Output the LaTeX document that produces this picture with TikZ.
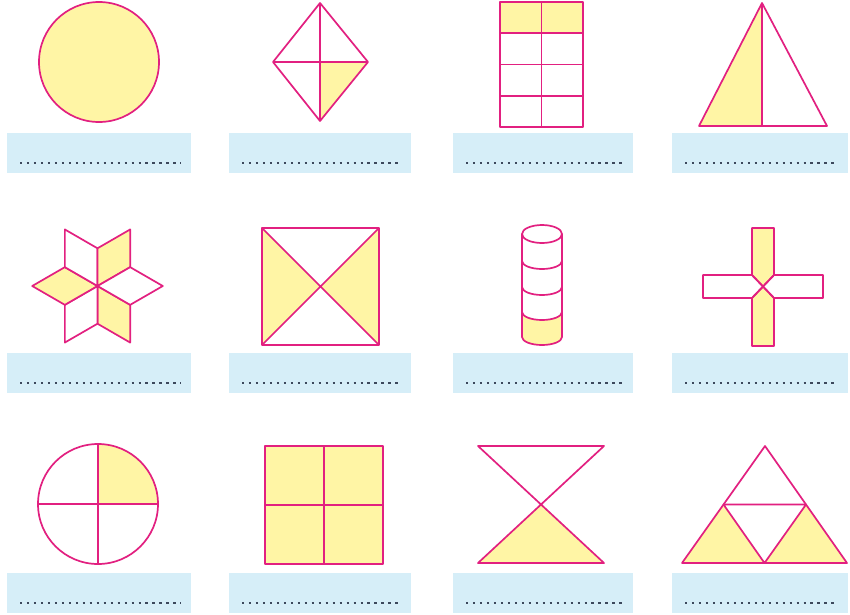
\documentclass[tikz,border=0pt]{standalone}
\usepackage{xcolor}
\usepackage{tikz}
\usetikzlibrary{calc}

\definecolor{pinkline}{RGB}{226,32,128}
\definecolor{partyellow}{RGB}{255,245,165}
\definecolor{boxblue}{RGB}{214,238,248}
\definecolor{dotgrey}{RGB}{60,72,92}

\begin{document}
\begin{tikzpicture}[
    x=0.03cm, y=-0.03cm,
    outline/.style={draw=pinkline, line width=1.45pt, line join=round},
    part/.style={fill=partyellow},
    answerbox/.style={fill=boxblue},
    dotrow/.style={draw=dotgrey, line width=1.9pt, dash pattern=on 1.9pt off 4.05pt},
]
    \fill[white] (0,0) rectangle (850,614);
    \useasboundingbox (0,0) rectangle (850,614);

    % answer boxes
    \foreach \bx/\ex in {7/191, 229/411, 453/633, 672/848}
        \foreach \by in {133, 353, 573} {
            \fill[answerbox] (\bx,\by) rectangle (\ex,\by+40);
            \draw[dotrow] (\bx+13,\by+30) -- (\ex-10,\by+30);
        }

    % row 1
    \coordinate (circ) at (99,62);
    \draw[outline, part] (circ) circle [radius=60];

    \coordinate (kt) at (320,3);
    \coordinate (kl) at (273,62);
    \coordinate (kr) at (368,62);
    \coordinate (kb) at (320,121);
    \coordinate (kc) at (320,62);
    \fill[part] (kc) -- (kr) -- (kb) -- cycle;
    \draw[outline] (kt) -- (kr) -- (kb) -- (kl) -- cycle;
    \draw[outline] (kt) -- (kb) (kl) -- (kr);

    \fill[part] (500,2) rectangle (583,33.25);
    \draw[outline] (500,2) rectangle (583,127);
    \draw[outline] (541.5,2) -- (541.5,127);
    \foreach \gy in {33.25,64.5,95.75}
        \draw[outline] (500,\gy) -- (583,\gy);

    \coordinate (ta) at (762,3);
    \coordinate (tl) at (699,126);
    \coordinate (tr) at (827,126);
    \coordinate (tm) at (762,126);
    \fill[part] (ta) -- (tl) -- (tm) -- cycle;
    \draw[outline] (ta) -- (tl) -- (tr) -- cycle (ta) -- (tm);

    % row 2
    \coordinate (star) at (97.5,286);
    \foreach \t/\c in {30/partyellow, 90/white, 150/partyellow, 210/white, 270/partyellow, 330/white}
        \draw[outline, fill=\c] (star) -- ++(\t:37.7) -- ++(\t+60:37.7) -- ++(\t+180:37.7) -- cycle;

    \coordinate (sq1) at (262,228);
    \coordinate (sq2) at (379,228);
    \coordinate (sq3) at (379,345);
    \coordinate (sq4) at (262,345);
    \coordinate (sqc) at (320.5,286.5);
    \fill[part] (sq1) -- (sqc) -- (sq4) -- cycle;
    \fill[part] (sq2) -- (sqc) -- (sq3) -- cycle;
    \draw[outline] (sq1) -- (sq2) -- (sq3) -- (sq4) -- cycle;
    \draw[outline] (sq1) -- (sq3) (sq2) -- (sq4);

    \fill[part] (522,312) arc[start angle=180, end angle=0, x radius=20, y radius=8]
        -- (562,337) arc[start angle=0, end angle=180, x radius=20, y radius=8] -- cycle;
    \draw[outline] (542,234) ellipse [x radius=20, y radius=9];
    \draw[outline] (522,234) -- (522,337) arc[start angle=180, end angle=0, x radius=20, y radius=8] -- (562,234);
    \foreach \cy in {261,287,312}
        \draw[outline] (522,\cy) arc[start angle=180, end angle=0, x radius=20, y radius=8];

    \coordinate (cc) at (763,286.5);
    \draw[outline, part] (752,228) -- (774,228) -- (774,275) -- (cc) -- (752,275) -- cycle;
    \draw[outline, part] (752,346) -- (774,346) -- (774,298) -- (cc) -- (752,298) -- cycle;
    \draw[outline] (703,275) -- (752,275) -- (cc) -- (752,298) -- (703,298) -- cycle;
    \draw[outline] (823,275) -- (774,275) -- (cc) -- (774,298) -- (823,298) -- cycle;

    % row 3
    \coordinate (qc) at (98,504);
    \fill[part] (qc) -- ++(60,0) arc[start angle=0, end angle=-90, radius=60] -- cycle;
    \draw[outline] (qc) circle [radius=60];
    \draw[outline] ($(qc)+(-60,0)$) -- ($(qc)+(60,0)$) ($(qc)+(0,-60)$) -- ($(qc)+(0,60)$);

    \draw[outline, part] (265,446) rectangle (383,564);
    \draw[outline] (324,446) -- (324,564) (265,505) -- (383,505);

    \coordinate (htl) at (478,446);
    \coordinate (htr) at (604,446);
    \coordinate (hbl) at (478,563);
    \coordinate (hbr) at (604,563);
    \coordinate (hc) at (541,504.5);
    \fill[part] (hc) -- (hbl) -- (hbr) -- cycle;
    \draw[outline] (htl) -- (htr) -- (hbl) -- (hbr) -- cycle;

    \coordinate (pa) at (765,446);
    \coordinate (pb) at (682,563);
    \coordinate (pc) at (847,563);
    \coordinate (pab) at ($(pa)!0.5!(pb)$);
    \coordinate (pac) at ($(pa)!0.5!(pc)$);
    \coordinate (pbc) at ($(pb)!0.5!(pc)$);
    \fill[part] (pb) -- (pab) -- (pbc) -- cycle;
    \fill[part] (pc) -- (pac) -- (pbc) -- cycle;
    \draw[outline] (pa) -- (pb) -- (pc) -- cycle;
    \draw[outline] (pab) -- (pac) -- (pbc) -- cycle;
\end{tikzpicture}
\end{document}
